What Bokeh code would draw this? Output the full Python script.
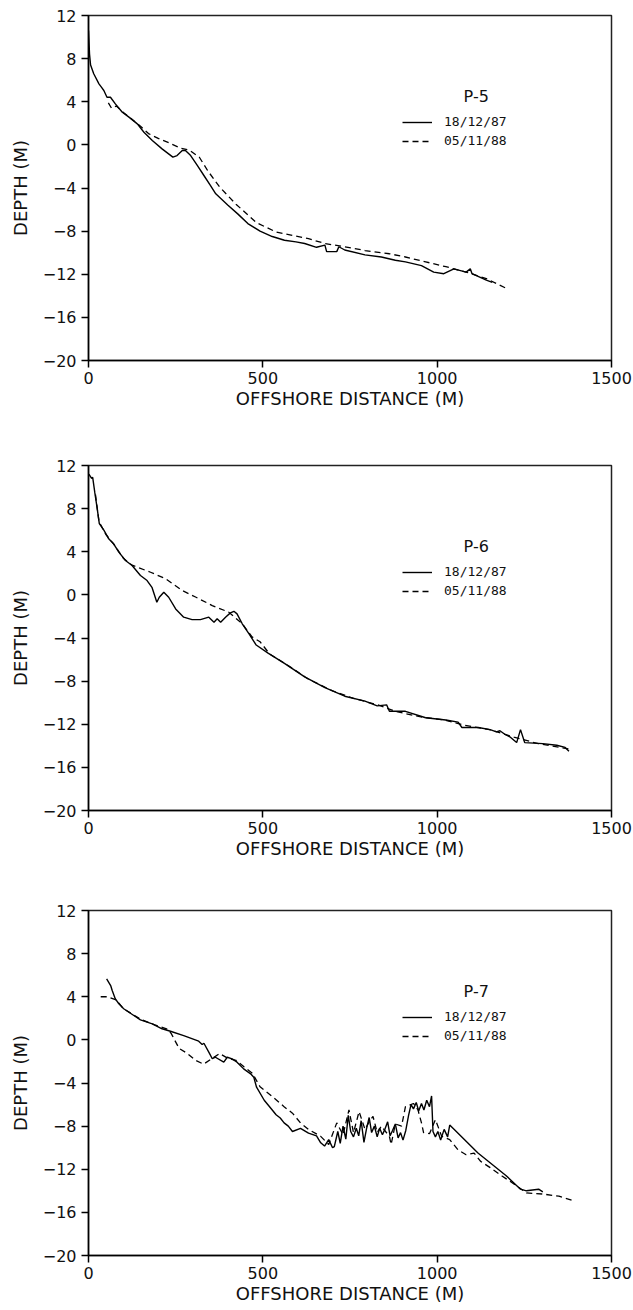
from bokeh.plotting import figure
from bokeh.models import Range1d, FixedTicker, Legend, LegendItem, Label
from bokeh.layouts import column
from bokeh.embed import file_html
from bokeh.resources import INLINE

# ---------------- data ----------------
x_ticks = [0, 500, 1000, 1500]
y_ticks = [-20, -16, -12, -8, -4, 0, 4, 8, 12]
dates = ["18/12/87", "05/11/88"]
profiles = ["P-5", "P-6", "P-7"]

# P-5
p5_x_87 = [0, 3, 6, 15, 30, 37, 44, 53, 63, 77, 97, 116, 140, 159, 183, 211, 242, 254, 269, 278, 293,
           312, 331, 350, 365, 400, 428, 457, 492, 527, 562, 595, 620, 654, 678, 683, 712, 718, 735,
           793, 840, 880, 909, 955, 990, 1019, 1048, 1083, 1095, 1100, 1141, 1158]
p5_y_87 = [10.6, 8.4, 7.4, 6.6, 5.66, 5.35, 5.04, 4.42, 4.42, 3.8, 3.03, 2.57, 1.95, 1.17, 0.4, -0.37,
           -1.14, -0.99, -0.52, -0.52, -0.99, -1.9, -2.84, -3.77, -4.54, -5.6, -6.4, -7.3, -8.0, -8.5,
           -8.85, -9.0, -9.15, -9.5, -9.3, -9.9, -9.9, -9.45, -9.75, -10.2, -10.4, -10.7, -10.85,
           -11.2, -11.8, -11.95, -11.5, -11.8, -11.5, -11.95, -12.55, -12.75]
p5_x_88 = [57, 66, 80, 100, 120, 150, 172, 200, 230, 264, 290, 318, 342, 376, 423, 481, 539, 585, 631,
           678, 735, 793, 863, 909, 967, 1025, 1083, 1141, 1204]
p5_y_88 = [3.9, 3.4, 3.6, 3.0, 2.5, 1.7, 1.05, 0.6, 0.2, -0.3, -0.5, -1.15, -2.4, -3.9, -5.5, -7.2,
           -8.1, -8.4, -8.7, -9.15, -9.45, -9.8, -10.1, -10.4, -10.85, -11.3, -11.8, -12.4, -13.4]

# P-6
p6_x_87 = [1, 9, 12, 18, 25, 31, 44, 58, 72, 87, 106, 125, 149, 168, 182, 196, 203, 216, 230, 250,
           273, 297, 321, 345, 360, 369, 379, 393, 407, 417, 426, 441, 460, 481, 515, 562, 620, 678,
           735, 793, 828, 855, 863, 909, 967, 1025, 1060, 1071, 1118, 1152, 1170, 1180, 1195, 1210,
           1228, 1239, 1251, 1303, 1343, 1367, 1378]
p6_y_87 = [11.2, 10.8, 10.9, 9.5, 8.0, 6.6, 6.0, 5.2, 4.74, 3.96, 3.19, 2.72, 1.8, 1.33, 0.7, -0.68,
           -0.22, 0.25, -0.22, -1.3, -2.07, -2.3, -2.3, -2.07, -2.54, -2.22, -2.54, -2.07, -1.67,
           -1.52, -1.76, -2.68, -3.6, -4.65, -5.4, -6.35, -7.6, -8.6, -9.4, -9.85, -10.3, -10.2,
           -10.8, -10.8, -11.4, -11.6, -11.8, -12.3, -12.3, -12.5, -12.7, -12.6, -12.95, -13.2, -13.7,
           -12.5, -13.7, -13.8, -13.95, -14.15, -14.5]
p6_x_88 = [20, 30, 50, 75, 100, 125, 178, 221, 269, 307, 355, 402, 441, 469, 492, 520, 570, 630, 700,
           760, 830, 880, 950, 1020, 1080, 1150, 1220, 1290, 1380]
p6_y_88 = [9.3, 6.8, 5.6, 4.6, 3.4, 2.75, 2.1, 1.5, 0.4, -0.2, -0.99, -1.6, -2.68, -3.9, -4.35, -5.5,
           -6.5, -7.8, -8.9, -9.6, -10.2, -10.8, -11.3, -11.6, -12.1, -12.5, -13.2, -13.8, -14.3]

# P-7
p7_x_87 = [52, 64, 68, 77, 87, 101, 130, 149, 183, 211, 235, 273, 316, 326, 331, 345, 355, 364, 388,
           398, 412, 426, 445, 465, 474, 482, 504, 527, 538, 550, 561, 573, 585, 608, 631, 654, 666,
           677, 689, 700, 705, 715, 722, 730, 738, 745, 752, 760, 768, 775, 782, 790, 797, 805, 812,
           820, 828, 835, 843, 850, 858, 865, 872, 880, 888, 895, 902, 910, 918, 925, 932, 940, 947,
           955, 962, 970, 978, 984, 988, 995, 1002, 1010, 1020, 1030, 1036, 1117, 1198, 1239, 1256,
           1291, 1303]
p7_y_87 = [5.65, 5.0, 4.58, 3.8, 3.35, 2.89, 2.26, 1.86, 1.49, 1.03, 0.8, 0.4, -0.12, -0.43, -0.31,
           -1.14, -1.75, -1.61, -2.07, -1.61, -1.76, -2.07, -2.69, -3.15, -3.46, -4.39, -5.6, -6.5,
           -6.95, -7.25, -7.7, -8.0, -8.5, -8.2, -8.65, -8.9, -9.55, -9.85, -9.25, -10.0, -9.9, -8.5,
           -9.6, -8.0, -9.2, -7.0, -8.5, -9.0, -8.2, -8.9, -7.5, -9.5, -8.3, -7.2, -8.6, -8.0, -9.0,
           -8.2, -8.8, -8.3, -7.6, -8.9, -8.4, -7.8, -9.1, -8.6, -9.3, -8.4, -7.0, -6.0, -6.4, -5.8,
           -6.6, -5.9, -6.5, -5.6, -6.2, -5.2, -8.5, -9.0, -8.5, -9.3, -8.3, -9.0, -7.9, -10.5, -12.6,
           -13.85, -14.0, -13.85, -14.1]
p7_x_88 = [35, 55, 80, 100, 150, 190, 226, 237, 260, 284, 307, 330, 376, 399, 423, 446, 470, 492,
           527, 561, 585, 608, 631, 666, 689, 712, 730, 747, 760, 770, 776, 793, 805, 816, 828, 840,
           852, 863, 868, 880, 898, 909, 932, 945, 955, 961, 978, 995, 1013, 1036, 1060, 1083, 1106,
           1124, 1152, 1187, 1222, 1256, 1303, 1349, 1395]
p7_y_88 = [4.0, 4.0, 3.7, 2.9, 1.9, 1.4, 1.0, 0.6, -0.8, -1.27, -1.9, -2.25, -1.27, -1.7, -1.9, -2.5,
           -3.1, -4.35, -5.25, -6.2, -6.8, -7.7, -8.3, -8.95, -9.7, -7.7, -8.8, -6.5, -8.6, -7.4,
           -6.65, -8.3, -7.6, -7.1, -8.6, -8.0, -8.5, -8.95, -9.7, -7.8, -8.0, -6.2, -5.9, -6.5, -7.7,
           -8.6, -8.7, -7.4, -8.95, -9.25, -10.2, -10.65, -10.5, -11.25, -11.85, -12.65, -13.4,
           -14.2, -14.3, -14.5, -14.95]

series = [
    (p5_x_87, p5_y_87, p5_x_88, p5_y_88),
    (p6_x_87, p6_y_87, p6_x_88, p6_y_88),
    (p7_x_87, p7_y_87, p7_x_88, p7_y_88),
]

# ---------------- layout ----------------
FONT = "DejaVu Sans"
borders = [(15, 60, 420), (45, 60, 450), (40, 55, 440)]  # top, bottom, height


def make_panel(i):
    t, b, h = borders[i]
    x87, y87, x88, y88 = series[i]
    p = figure(width=633, height=h, x_range=Range1d(0, 1500), y_range=Range1d(-20, 12),
               output_backend="svg", toolbar_location=None,
               min_border_left=88, min_border_right=22, min_border_top=t, min_border_bottom=b)
    p.xgrid.visible = False
    p.ygrid.visible = False
    p.outline_line_color = "#222222"
    p.outline_line_width = 1.5
    p.background_fill_color = "white"
    p.border_fill_color = "white"

    p.xaxis.ticker = FixedTicker(ticks=x_ticks)
    p.yaxis.ticker = FixedTicker(ticks=y_ticks)
    for ax in (p.xaxis[0], p.yaxis[0]):
        ax.major_tick_in = 0
        ax.major_tick_out = 7
        ax.minor_tick_in = 0
        ax.minor_tick_out = 0
        ax.axis_line_width = 1.5
        ax.axis_line_color = "black"
        ax.major_tick_line_width = 1.5
        ax.major_tick_line_color = "black"
        ax.major_label_text_font = FONT
        ax.major_label_text_font_size = "16px"
        ax.major_label_text_color = "#111111"
        ax.axis_label_text_font = FONT
        ax.axis_label_text_font_size = "18px"
        ax.axis_label_text_font_style = "normal"
        ax.axis_label_text_color = "#111111"
    p.xaxis.axis_label = "OFFSHORE DISTANCE (M)"
    p.yaxis.axis_label = "DEPTH (M)"
    p.xaxis.major_label_standoff = 4
    p.xaxis.axis_label_standoff = 1
    p.yaxis.major_label_standoff = 5
    p.yaxis.axis_label_standoff = 9

    r1 = p.line(x87, y87, line_color="black", line_width=1.4)
    r2 = p.line(x88, y88, line_color="black", line_width=1.3, line_dash="6 4")

    legend = Legend(items=[LegendItem(label=dates[0], renderers=[r1]),
                           LegendItem(label=dates[1], renderers=[r2])],
                    location=(314, 212), orientation="vertical")
    legend.border_line_color = None
    legend.background_fill_alpha = 0
    legend.padding = 0
    legend.margin = 0
    legend.spacing = 4
    legend.glyph_width = 30
    legend.glyph_height = 14
    legend.label_height = 14
    legend.label_standoff = 12
    legend.label_text_font = "DejaVu Sans Mono"
    legend.label_text_font_size = "13px"
    legend.label_text_color = "#111111"
    p.add_layout(legend, "center")

    title = Label(x=1112, y=4.5, text=profiles[i], text_align="center", text_baseline="middle",
                  text_font=FONT, text_font_size="16px", text_color="#111111")
    p.add_layout(title)
    return p


layout = column(*[make_panel(i) for i in range(3)], spacing=0)

html = file_html(layout, INLINE)
open("out.html", "w").write(html)
